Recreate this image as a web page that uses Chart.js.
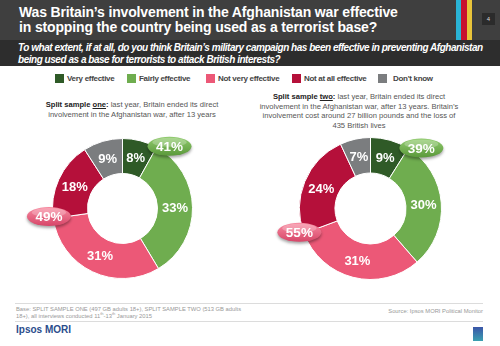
<!DOCTYPE html>
<html>
<head>
<meta charset="utf-8">
<script src="https://cdn.jsdelivr.net/npm/chart.js@4"></script>
<style>
  body { margin: 0; width: 500px; height: 346px; position: relative; overflow: hidden; background: #fff; font-family: "Liberation Sans", Arial, sans-serif; }
  .title { position: absolute; left: 0; top: 0; width: 500px; height: 40px; background: #3f3f3f; }
  .title h1 { margin: 0; position: absolute; left: 19px; top: 5px; font-size: 14px; line-height: 15px; color: #fff; font-weight: bold; letter-spacing: -0.15px; }
  .stripes { position: absolute; left: 456px; top: 0; height: 40px; width: 16px; display: flex; }
  .stripes span { flex: 1; }
  .pageno { position: absolute; left: 482px; top: 13px; width: 13px; height: 12px; background: #2b2b2b; color: #ddd; font-size: 6px; text-align: center; line-height: 12px; }
  .question { position: absolute; left: 0; top: 40px; width: 500px; height: 26px; background: #2d2d2d; }
  .question p { margin: 0; position: absolute; left: 18px; top: 2px; font-size: 10px; line-height: 12px; color: #fff; font-weight: bold; font-style: italic; letter-spacing: -0.47px; }
  .legend { position: absolute; left: 0; top: 73px; width: 500px; height: 10px; }
  .legend div { position: absolute; top: 0; height: 10px; display: flex; align-items: center; font-size: 8px; font-weight: bold; color: #444; letter-spacing: -0.3px; }
  .legend i { display: inline-block; width: 9px; height: 9px; }
  .sub { position: absolute; text-align: center; font-size: 7.6px; line-height: 9.6px; color: #555; }
  .sub b { color: #222; }
  canvas { position: absolute; }
  .rule { position: absolute; left: 15px; width: 468px; height: 1px; background: #dcdcdc; }
  .base { position: absolute; left: 16px; top: 306px; font-size: 5.8px; line-height: 6.5px; color: #999; }
  .base sup { font-size: 4px; line-height: 0; }
  .source { position: absolute; right: 17px; top: 308px; font-size: 5.8px; color: #999; }
  .brand { position: absolute; left: 16px; top: 324px; font-size: 10px; font-weight: bold; color: #2b4d8c; }
  .logo { position: absolute; left: 473px; top: 327px; width: 10px; height: 14px; background: linear-gradient(#3b55a8, #3aa0b0); }
</style>
</head>
<body>
<div class="title">
  <h1>Was Britain’s involvement in the Afghanistan war effective<br>in stopping the country being used as a terrorist base?</h1>
  <div class="stripes"><span style="background:#2ab4d6"></span><span style="background:#c8102e"></span><span style="background:#e8c43a"></span></div>
  <div class="pageno">4</div>
</div>
<div class="question">
  <p>To what extent, if at all, do you think Britain’s military campaign has been effective in preventing Afghanistan<br>being used as a base for terrorists to attack British interests?</p>
</div>
<div class="legend" id="legend"></div>

<div class="sub" style="left:12px; top:100px; width:240px;"><b>Split sample <u>one</u>:</b> last year, Britain ended its direct<br>involvement in the Afghanistan war, after 13 years</div>
<div class="sub" style="left:239px; top:92px; width:240px;"><b>Split sample <u>two</u>:</b> last year, Britain ended its direct<br>involvement in the Afghanistan war, after 13 years. Britain’s<br>involvement cost around 27 billion pounds and the loss of<br>435 British lives</div>

<canvas id="chartOne" width="250" height="165" style="left:0; top:130px;"></canvas>
<canvas id="chartTwo" width="250" height="165" style="left:250px; top:130px;"></canvas>

<div class="rule" style="top:303px;"></div>
<div class="base">Base: SPLIT SAMPLE ONE (497 GB adults 18+), SPLIT SAMPLE TWO (513 GB adults<br>18+), all interviews conducted 11<sup>th</sup>-13<sup>th</sup> January 2015</div>
<div class="source">Source: Ipsos MORI Political Monitor</div>
<div class="rule" style="top:321px;"></div>
<div class="brand">Ipsos MORI</div>
<div class="logo"></div>

<script>
const categories = ["Very effective", "Fairly effective", "Not very effective", "Not at all effective", "Don't know"];
const sampleOne = [8, 33, 31, 18, 9];
const sampleTwo = [9, 30, 31, 24, 7];
const colours = ["#2f5a27", "#6fad4f", "#ec5877", "#b5103a", "#7b7d7f"];

// legend row, laid out by hand
const legendX = [55, 127, 206, 292, 378];
const legend = document.getElementById("legend");
categories.forEach((c, i) => {
    const d = document.createElement("div");
    d.style.left = legendX[i] + "px";
    d.innerHTML = `<i style="background:${colours[i]}; margin-right:${i == 4 ? 6 : 3}px"></i>${c}`;
    legend.appendChild(d);
});

// glossy oval showing a combined total
function drawBadge(ctx, x, y, text, top, bottom) {
    ctx.save();
    ctx.shadowColor = "rgba(0,0,0,0.35)";
    ctx.shadowBlur = 3;
    ctx.shadowOffsetY = 2;
    const g = ctx.createLinearGradient(0, y - 9, 0, y + 9);
    g.addColorStop(0, top);
    g.addColorStop(1, bottom);
    ctx.beginPath();
    ctx.ellipse(x, y, 22, 9.5, 0, 0, Math.PI * 2);
    ctx.fillStyle = g;
    ctx.fill();
    ctx.restore();
    ctx.save();
    ctx.beginPath();
    ctx.ellipse(x, y - 4, 17, 4.5, 0, 0, Math.PI * 2);
    ctx.fillStyle = "rgba(255,255,255,0.25)";
    ctx.fill();
    ctx.fillStyle = "#fff";
    ctx.font = "bold 13.5px 'Liberation Sans', Arial, sans-serif";
    ctx.textAlign = "center";
    ctx.textBaseline = "middle";
    ctx.fillText(text, x, y + 1);
    ctx.restore();
}

const labelPlugin = {
    id: "labels",
    afterDatasetsDraw(chart) {
        const ctx = chart.ctx;
        const meta = chart.getDatasetMeta(0);
        const values = chart.data.datasets[0].data;
        ctx.save();
        ctx.fillStyle = "#fff";
        ctx.font = "bold 13px 'Liberation Sans', Arial, sans-serif";
        ctx.textAlign = "center";
        ctx.textBaseline = "middle";
        meta.data.forEach((arc, i) => {
            const p = arc.getCenterPoint();
            ctx.fillText(values[i] + "%", p.x, p.y + 1);
        });
        ctx.restore();

        // totals: effective (first two) and not effective (next two)
        const first = meta.data[0];
        const cx = first.x, cy = first.y, r = first.outerRadius;
        const effective = values[0] + values[1];
        const notEffective = values[2] + values[3];
        let a = first.endAngle + 8 * Math.PI / 180;
        drawBadge(ctx, cx + (r + 8) * Math.cos(a), cy + (r + 8) * Math.sin(a), effective + "%", "#8fca6c", "#5c9a3c");
        a = meta.data[2].endAngle + 2 * Math.PI / 180;
        drawBadge(ctx, cx + (r + 4) * Math.cos(a), cy + (r + 4) * Math.sin(a), notEffective + "%", "#f7899f", "#d8486a");
    }
};

function makeDonut(id, values, padding) {
    return new Chart(document.getElementById(id), {
        type: "doughnut",
        data: {
            labels: categories,
            datasets: [{
                data: values,
                backgroundColor: colours,
                borderColor: "#fff",
                borderWidth: 1,
                hoverBorderWidth: 1
            }]
        },
        options: {
            responsive: false,
            animation: false,
            cutout: "50%",
            layout: { padding: padding },
            plugins: { legend: { display: false }, tooltip: { enabled: false } }
        },
        plugins: [labelPlugin]
    });
}

makeDonut("chartOne", sampleOne, { left: 52, right: 57, top: 8, bottom: 16 });
makeDonut("chartTwo", sampleTwo, { left: 49, right: 58, top: 7, bottom: 15 });
</script>
</body>
</html>
